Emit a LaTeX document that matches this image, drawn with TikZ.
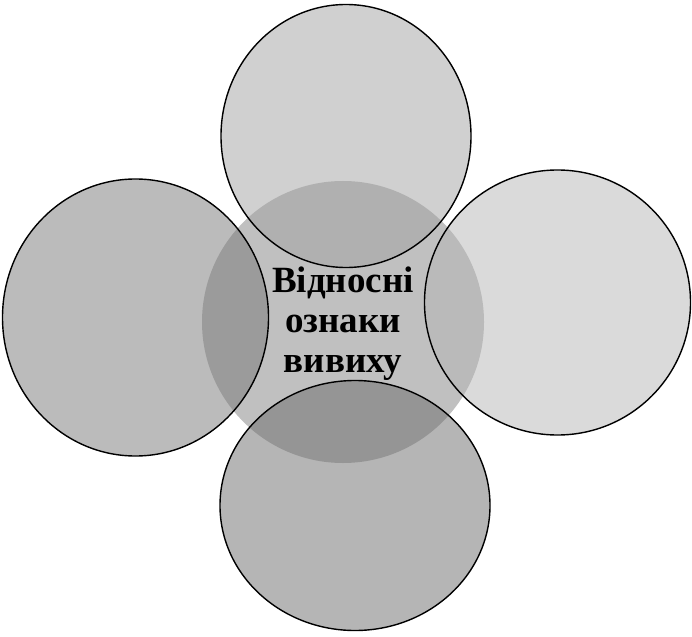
\documentclass[tikz,border=0pt]{standalone}
\usepackage{fontspec}
\setmainfont{Liberation Serif}
\usetikzlibrary{shapes.geometric}
\definecolor{centerfill}{gray}{0.753}
\definecolor{topfill}{gray}{0.63}
\definecolor{leftfill}{gray}{0.467}
\definecolor{bottomfill}{gray}{0.42}
\definecolor{rightfill}{gray}{0.71}
\tikzset{
  outer/.style={ellipse, draw=black, line width=1.4pt, fill opacity=0.5, inner sep=0pt},
  hub/.style={ellipse, fill=centerfill, inner sep=0pt, minimum width=282pt, minimum height=282pt},
  hubtext/.style={align=center, font=\fontsize{37}{40}\selectfont\bfseries, text=black}
}
\begin{document}
\begin{tikzpicture}[x=1pt,y=-1pt]
\useasboundingbox (0,0) rectangle (692,636);
\node[hub] (c) at (343,322) {};
\node[outer, fill=topfill, minimum width=250pt, minimum height=263pt] (t) at (346,136) {};
\node[outer, fill=leftfill, minimum width=266pt, minimum height=277pt] (l) at (135.5,317.5) {};
\node[outer, fill=rightfill, minimum width=266pt, minimum height=265pt] (r) at (557.5,302.5) {};
\node[outer, fill=bottomfill, minimum width=270pt, minimum height=250pt] (b) at (355,505.5) {};
\node[hubtext] (label) at (343,324) {Відносні\\ознаки\\вивиху};
\end{tikzpicture}
\end{document}
